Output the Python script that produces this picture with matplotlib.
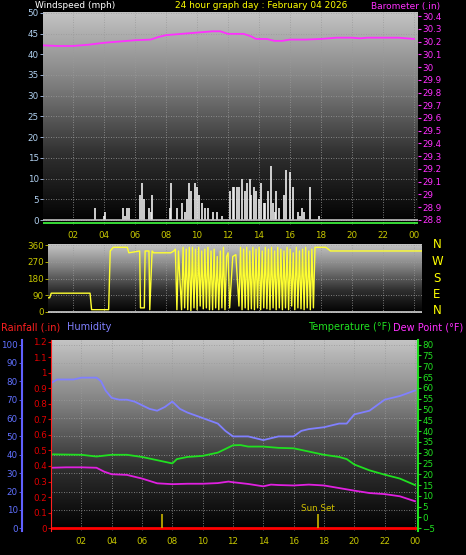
import numpy as np
import matplotlib
matplotlib.use("Agg")
import matplotlib.pyplot as plt
from matplotlib.colors import LinearSegmentedColormap

W, H = 466, 555
# ---------------- data ----------------
gust_t = [3.42, 4.0, 4.06, 5.2, 5.35, 5.5, 5.6, 6.35, 6.45, 6.55, 6.9, 7.0, 7.1, 8.25, 8.35, 8.7, 9.0,
          9.2, 9.35, 9.5, 9.6, 9.9, 10.0, 10.1, 10.3, 10.5, 10.7, 11.0, 11.3, 11.6, 12.1, 12.3, 12.4,
          12.55, 12.7, 12.9, 13.1, 13.25, 13.4, 13.5, 13.65, 13.8, 14.0, 14.15, 14.3, 14.4, 14.6, 14.75,
          14.9, 15.0, 15.1, 15.3, 15.6, 15.75, 16.0, 16.2, 16.5, 16.65, 16.8, 16.9, 17.3, 17.9]
gust_v = [3, 1, 2, 3, 1, 3, 3, 6, 9, 5, 3, 2, 6, 3, 9, 3, 4, 2, 5, 9, 7, 9, 8, 6, 4, 3, 3, 2, 2, 1, 7, 8, 8,
          8, 8, 10, 7, 9, 10, 6, 8, 7, 5, 9, 4, 4, 7, 13, 4, 2, 7, 3, 6, 12, 11.5, 8, 2, 1, 3, 2, 8, 1]

baro_t = [0, 1, 2, 3, 4, 5, 6, 7, 7.5, 8, 9, 10, 11, 11.5, 12, 13, 13.5, 13.8, 14.5, 15, 15.5, 16, 17, 18, 19, 20, 20.5, 21, 22, 23, 24]
baro_v = [30.17, 30.165, 30.165, 30.175, 30.19, 30.2, 30.21, 30.215, 30.235, 30.25, 30.26, 30.27, 30.28, 30.28,
          30.26, 30.26, 30.24, 30.22, 30.22, 30.205, 30.205, 30.215, 30.215, 30.22, 30.23, 30.23, 30.225, 30.23, 30.23, 30.23, 30.22]

dir_t = [0.3, 0.5, 0.6, 3.1, 3.2, 4.3, 4.4, 4.6, 5.5, 5.6, 6.3, 6.35, 6.6, 6.65, 6.9, 6.95, 7.1, 7.2, 8.3, 8.5,
         8.6, 8.7, 8.8, 9.0, 9.1, 9.2, 9.3, 9.4, 9.5, 9.6, 9.7, 9.8, 9.9, 10.0, 10.1, 10.2, 10.3, 10.4, 10.5,
         10.6, 10.7, 10.8, 10.9, 11.0, 11.1, 11.2, 11.3, 11.4, 11.5, 11.6, 11.7, 11.8, 11.9, 12.0, 12.1, 12.3,
         12.5, 12.7, 12.8, 12.9, 13.0, 13.1, 13.2, 13.3, 13.4, 13.5, 13.6, 13.7, 13.8, 13.9, 14.0, 14.1, 14.2,
         14.3, 14.4, 14.5, 14.6, 14.7, 14.8, 14.9, 15.0, 15.1, 15.2, 15.3, 15.4, 15.5, 15.6, 15.7, 15.8, 15.9,
         16.0, 16.1, 16.2, 16.3, 16.4, 16.5, 16.6, 16.7, 16.8, 16.9, 17.0, 17.1, 17.2, 17.3, 17.4, 17.5, 17.6,
         18.3, 18.6, 24.5]
dir_v = [75, 75, 100, 100, 10, 10, 330, 350, 350, 320, 330, 20, 20, 330, 330, 10, 330, 320, 320, 330,
         340, 10, 330, 10, 350, 20, 340, 10, 350, 5, 350, 20, 340, 10, 350, 30, 330, 15, 340, 20, 350,
         10, 330, 10, 340, 20, 300, 10, 330, 20, 350, 10, 300, 320, 20, 300, 310, 30, 350, 10, 340, 20,
         350, 10, 330, 15, 350, 10, 340, 20, 350, 10, 330, 20, 350, 15, 340, 10, 350, 20, 330, 10, 350,
         20, 340, 10, 330, 20, 350, 10, 340, 30, 320, 10, 350, 20, 330, 15, 340, 10, 350, 20, 330, 10, 340, 20, 350,
         350, 330, 330]

hum_t = [0, 0.4, 1.5, 2, 3, 3.3, 3.6, 4, 4.5, 5, 5.5, 6, 6.5, 7, 7.5, 8, 8.5, 9, 10, 11, 11.5, 12, 13, 14, 15, 16,
         16.5, 17, 18, 19, 19.5, 20, 21, 22, 23, 24]
hum_v = [79, 81, 81, 82, 82, 80, 75, 71, 70, 70, 69, 67, 65, 64, 66, 69, 65, 63, 60, 57, 53, 50, 50, 48, 50, 50,
         53, 54, 55, 57, 57, 62, 64, 70, 72, 75]

temp_t = [0, 2, 3, 4, 5, 6, 7, 8, 8.3, 9, 10, 11, 12, 12.5, 13, 14, 15, 16, 17, 18, 19, 19.5, 20, 21, 22, 23, 24]
temp_v = [29.2, 29, 28.2, 29, 29, 28, 26.5, 25, 27, 28, 28.5, 30, 33.4, 33.5, 32.8, 32.8, 32.2, 32, 30.5, 29,
          28, 27, 24.5, 21.8, 19.8, 18, 15]

dew_t = [0, 1, 2, 3, 3.5, 4, 5, 6, 7, 8, 9, 10, 11, 11.7, 12, 13, 14, 14.5, 15, 16, 17, 18, 19, 20, 21, 22, 23, 24]
dew_v = [23, 23.2, 23.2, 23, 21.2, 20, 19.7, 18, 15.8, 15.4, 15.6, 15.6, 15.9, 16.6, 16.3, 15.5, 14.4, 15.2,
         15, 14.8, 15.2, 14.8, 13.6, 12.4, 11.3, 10.8, 9.8, 7.5]

sun_events = [7.3, 17.6]
hour_ticks = list(range(2, 25, 2))
hour_labels = ["%02d" % (h % 24) for h in hour_ticks]

# ---------------- figure ----------------
fig = plt.figure(figsize=(W / 100, H / 100), dpi=100, facecolor="black")
plt.rcParams["font.family"] = "DejaVu Sans"

def px_axes(x0, y0, x1, y1):
    return fig.add_axes([x0 / W, 1 - y1 / H, (x1 - x0) / W, (y1 - y0) / H])

grad = np.linspace(0, 1, 256).reshape(-1, 1)
cmap = LinearSegmentedColormap.from_list("g", ["#000000", "#303030", "#808080", "#c4c4c4"])

def style(ax):
    ax.set_facecolor("black")
    ax.imshow(grad, cmap=cmap, origin="lower", extent=[0, 1, 0, 1], transform=ax.transAxes,
              aspect="auto", zorder=0)
    for s in ax.spines.values():
        s.set_visible(False)
    ax.grid(True, color="#9a9a9a", linestyle=(0, (1, 2)), linewidth=0.6, zorder=1)
    ax.tick_params(length=2, width=0.6, labelsize=6.3, pad=1)

yl = "#c8c800"
# ---- top panel
ax1 = px_axes(43, 12, 418, 225)
style(ax1)
ax1.set_xlim(0.06, 24.26)
ax1.set_ylim(-1.2, 50.2)
ax1.vlines(gust_t, 0, gust_v, color="#f0f0f0", linewidth=1.2, zorder=3)
ax1.axhline(0, color="#c0c0c0", linewidth=1.2, zorder=3)
ax1.axhline(-0.8, color="#40ff40", linewidth=1.2, zorder=3)
ax1.set_yticks(range(0, 51, 5))
ax1.tick_params(axis="y", colors="#b0c8f0", labelcolor="#b0d0f0")
ax1.set_xticks(hour_ticks)
ax1.set_xticklabels(hour_labels, color=yl)
ax1.tick_params(axis="x", colors=yl, length=0, pad=4)
ax1b = ax1.twinx()
ax1b.set_ylim(28.8 - 0.1 * (5 / 12.7), 30.4 + 0.1 * (4 / 12.7))
ax1b.plot(baro_t, baro_v, color="#ff30ff", linewidth=1.3, zorder=4)
bt = np.round(np.arange(28.8, 30.41, 0.1), 1)
ax1b.set_yticks(bt)
ax1b.set_yticklabels(["%g" % v for v in bt])
ax1b.tick_params(axis="y", colors="#ff30ff", labelsize=6.3, length=2, pad=1)
for s in ax1b.spines.values():
    s.set_visible(False)
fig.text(35 / W, 1 - 6 / H, "Windspeed (mph)", color="white", fontsize=6.5, va="center")
fig.text(261 / W, 1 - 6 / H, "24 hour graph day : February 04 2026", color="#ffff00", fontsize=6.5, va="center", ha="center")
fig.text(440 / W, 1 - 6 / H, "Barometer (.in)", color="#ff30ff", fontsize=6.5, va="center", ha="right")

# ---- middle panel
ax2 = px_axes(48, 244, 422, 313)
style(ax2)
ax2.set_xlim(0.39, 24.5)
ax2.set_ylim(-8, 368)
ax2.plot(dir_t, dir_v, color="#ffff30", linewidth=1.0, zorder=3)
ax2.axhline(-4, color="#d0d0d0", linewidth=1.2, zorder=3)
ax2.set_yticks([0, 90, 180, 270, 360])
ax2.tick_params(axis="y", colors=yl)
ax2.set_xticks(hour_ticks)
ax2.set_xticklabels([])
ax2.tick_params(axis="x", length=0)
for i, c in enumerate(["N", "W", "S", "E", "N"]):
    fig.text(437 / W, 1 - (245 + i * 16.5) / H, c, color="#ffff00", fontsize=8.5, va="center", ha="center")

# ---- bottom panel
ax3 = px_axes(51, 340, 418, 531)
style(ax3)
ax3.set_xlim(0, 24.2)
ax3.set_ylim(-1.5, 102.5)
ax3.plot(hum_t, hum_v, color="#8080ff", linewidth=1.3, zorder=4)
ax3.set_yticks(range(0, 101, 10))
ax3.tick_params(axis="y", colors="#6060ff", labelcolor="#6070ff", pad=1)
ax3.set_xticks(hour_ticks)
ax3.set_xticklabels(hour_labels, color=yl)
ax3.tick_params(axis="x", colors=yl, length=0, pad=4)
ax3.axhline(0, color="#ff0000", linewidth=2, zorder=5)
ax3.vlines(sun_events, 0, 8, color="#c8b400", linewidth=1.2, zorder=5)
ax3.text(sun_events[1], 9.5, "Sun Set", color="#d0c000", fontsize=6.3, ha="center", zorder=6)
ax3.spines["left"].set_visible(True)
ax3.spines["left"].set_position(("outward", 21))
ax3.spines["left"].set_color("#6060ff")
ax3.spines["left"].set_linewidth(1.5)

ax3r = ax3.twinx()
ax3r.set_ylim(-5 - 85 * 1.5 / 100, 80 + 85 * 2.5 / 100)
ax3r.plot(temp_t, temp_v, color="#20e020", linewidth=1.3, zorder=4)
ax3r.plot(dew_t, dew_v, color="#e020e0", linewidth=1.3, zorder=4)
ax3r.set_yticks(range(-5, 81, 5))
ax3r.tick_params(axis="y", colors="#20e020", labelsize=6.3, length=2, pad=1)
for s in ax3r.spines.values():
    s.set_visible(False)
ax3r.spines["right"].set_visible(True)
ax3r.spines["right"].set_color("#20e020")
ax3r.spines["right"].set_linewidth(1.5)

axr = ax3.twinx()
axr.set_ylim(-0.018, 1.21)
axr.yaxis.set_ticks_position("left")
axr.yaxis.set_label_position("left")
rt = np.round(np.arange(0, 1.21, 0.1), 1)
axr.set_yticks(rt)
axr.set_yticklabels(["%g" % v for v in rt])
axr.tick_params(axis="y", colors="#e00000", labelsize=6.3, length=2, pad=1)
for s in axr.spines.values():
    s.set_visible(False)
axr.spines["left"].set_visible(True)
axr.spines["left"].set_color("#ff2020")
axr.spines["left"].set_linestyle((0, (2, 1)))

fig.text(1 / W, 1 - 327 / H, "Rainfall (.in)", color="#ff2020", fontsize=7, va="center")
fig.text(67 / W, 1 - 327 / H, "Humidity", color="#8080ff", fontsize=7, va="center")
fig.text(391 / W, 1 - 327 / H, "Temperature (°F)", color="#20e020", fontsize=7, va="center", ha="right")
fig.text(463 / W, 1 - 327 / H, "Dew Point (°F)", color="#ff30ff", fontsize=7, va="center", ha="right")

fig.savefig("out.png", dpi=100, facecolor="black")
